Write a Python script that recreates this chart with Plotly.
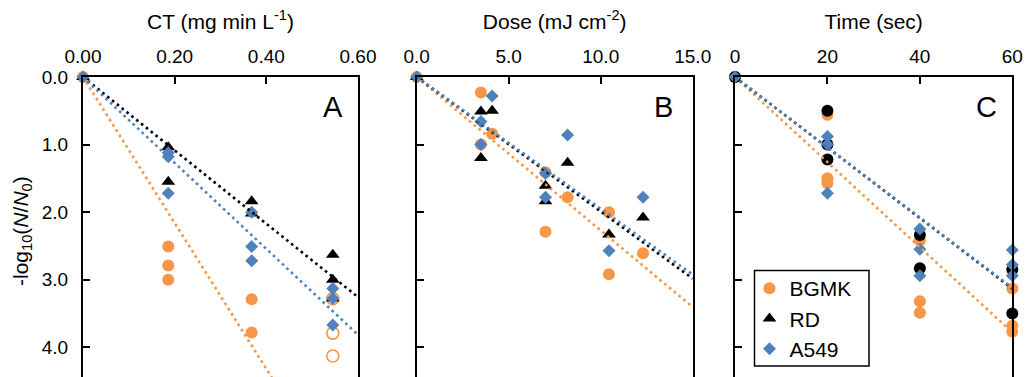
import plotly.graph_objects as go

ORANGE = "#F79646"
BLACK = "#000000"
BLUE = "#4F81BD"
FONT = "Arial, Liberation Sans, sans-serif"

# ---------------- Panel A : CT (mg min L-1) ----------------
a_bgmk_x = [0, 0.186, 0.186, 0.186, 0.368, 0.368]
a_bgmk_y = [0, 2.51, 2.79, 3.00, 3.29, 3.78]
a_bgmk_open_x = [0.545, 0.545, 0.545]
a_bgmk_open_y = [3.28, 3.79, 4.13]
a_rd_x = [0, 0.186, 0.186, 0.368, 0.368, 0.545, 0.545, 0.545]
a_rd_y = [0, 1.04, 1.55, 1.84, 2.02, 2.63, 3.00, 3.28]
a_a549_x = [0, 0.186, 0.186, 0.186, 0.368, 0.368, 0.368, 0.545, 0.545, 0.545]
a_a549_y = [0, 1.12, 1.18, 1.72, 2.00, 2.51, 2.72, 3.13, 3.28, 3.67]
a_slopes = [10.8, 5.43, 6.36]          # trendlines through origin: BGMK, RD, A549

# ---------------- Panel B : Dose (mJ cm-2) ----------------
b_bgmk_x = [0, 3.49, 3.49, 4.1, 7.0, 7.0, 8.2, 10.45, 10.45, 12.3]
b_bgmk_y = [0, 0.23, 1.00, 0.84, 1.41, 2.29, 1.78, 2.00, 2.92, 2.61]
b_rd_x = [0, 3.49, 4.1, 3.49, 7.0, 7.0, 8.2, 10.45, 12.3]
b_rd_y = [0, 0.51, 0.50, 1.20, 1.61, 1.84, 1.27, 2.33, 2.08]
b_a549_x = [0, 4.1, 3.49, 3.49, 7.0, 7.0, 8.2, 10.45, 12.3]
b_a549_y = [0, 0.28, 0.66, 1.00, 1.43, 1.78, 0.86, 2.57, 1.78]
b_slopes = [0.227, 0.199, 0.195]

# ---------------- Panel C : Time (sec) ----------------
c_bgmk_x = [0, 20, 20, 20, 40, 40, 40, 60, 60, 60]
c_bgmk_y = [0, 0.56, 1.50, 1.57, 2.42, 3.32, 3.49, 3.13, 3.68, 3.77]
c_rd_x = [0, 20, 20, 20, 40, 40, 60, 60]
c_rd_y = [0, 0.50, 1.00, 1.22, 2.34, 2.83, 2.85, 3.50]
c_a549_x = [0, 20, 20, 20, 40, 40, 40, 60, 60, 60]
c_a549_y = [0, 0.88, 1.00, 1.72, 2.25, 2.55, 2.94, 2.56, 2.78, 2.94]
c_slopes = [0.063, 0.0522, 0.052]

series_names = ["BGMK", "RD", "A549"]
series_colors = [ORANGE, BLACK, BLUE]

x_ranges = [[0, 0.6], [0, 15], [0, 60]]
y_range = [4.44, 0]

fig = go.Figure()


def add_markers(x, y, xa, ya, name, color, symbol, size, showlegend, open_=False):
    marker = dict(color=color, symbol=symbol, size=size, line=dict(width=0))
    if open_:
        marker = dict(color=color, symbol="circle-open", size=size, line=dict(width=1.6, color=color))
    fig.add_trace(go.Scatter(x=x, y=y, xaxis=xa, yaxis=ya, mode="markers", name=name,
                             legendgroup=name, showlegend=showlegend, marker=marker,
                             cliponaxis=False, hoverinfo="x+y"))


def add_trend(slope, xr, xa, ya, color):
    xs = [xr[0], xr[1]]
    ys = [slope * v for v in xs]
    fig.add_trace(go.Scatter(x=xs, y=ys, xaxis=xa, yaxis=ya, mode="lines", showlegend=False,
                             line=dict(color=color, width=2.6, dash="2.6px,3.6px"),
                             hoverinfo="skip"))


# Panel A markers
add_markers(a_bgmk_open_x, a_bgmk_open_y, "x", "y", "BGMK", ORANGE, "circle", 12, False, open_=True)
add_markers(a_bgmk_x, a_bgmk_y, "x", "y", "BGMK", ORANGE, "circle", 12, True)
add_markers(a_rd_x, a_rd_y, "x", "y", "RD", BLACK, "triangle-up", 12, True)
add_markers(a_a549_x, a_a549_y, "x", "y", "A549", BLUE, "diamond", 10, True)
# Panel B markers
add_markers(b_bgmk_x, b_bgmk_y, "x2", "y2", "BGMK", ORANGE, "circle", 12, False)
add_markers(b_rd_x, b_rd_y, "x2", "y2", "RD", BLACK, "triangle-up", 12, False)
add_markers(b_a549_x, b_a549_y, "x2", "y2", "A549", BLUE, "diamond", 10, False)
# Panel C markers (RD drawn as circles)
add_markers(c_bgmk_x, c_bgmk_y, "x3", "y3", "BGMK", ORANGE, "circle", 12, False)
add_markers(c_rd_x, c_rd_y, "x3", "y3", "RD", BLACK, "circle", 12, False)
add_markers(c_a549_x, c_a549_y, "x3", "y3", "A549", BLUE, "diamond", 10, False)

# Trendlines
for slopes, xr, xa, ya in [(a_slopes, x_ranges[0], "x", "y"),
                           (b_slopes, x_ranges[1], "x2", "y2"),
                           (c_slopes, x_ranges[2], "x3", "y3")]:
    for s, col in zip(slopes, series_colors):
        add_trend(s, xr, xa, ya, col)

W, H = 1025, 377
ytop = 1 - 77 / H
domains = [[83 / W, 358 / W], [416.7 / W, 692.7 / W], [735 / W, 1012.3 / W]]
x_titles = ["CT (mg min L<sup>-1</sup>)", "Dose (mJ cm<sup>-2</sup>)", "Time (sec)"]
x_ticks = [[0, 0.2, 0.4, 0.6], [0, 5, 10, 15], [0, 20, 40, 60]]
x_fmt = [".2f", ".1f", "d"]

common_axis = dict(showline=True, linecolor="black", linewidth=2, ticks="inside", ticklen=7,
                   tickwidth=1.5, tickcolor="black", showgrid=False, zeroline=False,
                   automargin=False,
                   tickfont=dict(size=19, color="black", family=FONT))

layout = dict(
    width=W, height=H, margin=dict(l=0, r=0, t=0, b=0),
    paper_bgcolor="white", plot_bgcolor="white",
    font=dict(family=FONT, color="black"),
    showlegend=True,
    legend=dict(x=749.5 / W, y=1 - 268 / H, xanchor="left", yanchor="top",
                borderwidth=0, bgcolor="rgba(0,0,0,0)",
                font=dict(size=21, family=FONT, color="black"), itemwidth=30,
                tracegroupgap=0),
    shapes=[dict(type="rect", xref="paper", yref="paper",
                 x0=754.5 / W, x1=869 / W, y0=1 - 366 / H, y1=1 - 270.5 / H,
                 line=dict(color="black", width=1.5), fillcolor="white", layer="above")],
)

for i in range(3):
    sx = "" if i == 0 else str(i + 1)
    layout["xaxis" + sx] = dict(common_axis, domain=domains[i], range=x_ranges[i], side="top",
                                anchor="y" + sx, tickvals=x_ticks[i], tickformat=x_fmt[i],
                                ticklabelstandoff=4,
                                title=dict(text=x_titles[i], font=dict(size=21, family=FONT), standoff=11))
    layout["yaxis" + sx] = dict(common_axis, domain=[0, ytop], range=y_range, anchor="x" + sx,
                                tickvals=[0, 1, 2, 3, 4], tickformat=".1f", mirror=True,
                                ticklabelstandoff=9, showticklabels=(i == 0))

annotations = [
    dict(text="-log<sub>10</sub>(<i>N</i>/<i>N</i><sub>0</sub>)", x=22 / W, y=1 - 231 / H,
         xref="paper", yref="paper", textangle=-90, showarrow=False,
         font=dict(size=21, family=FONT), xanchor="center", yanchor="middle"),
]
for letter, px in zip(["A", "B", "C"], [332.7, 663.3, 986.7]):
    annotations.append(dict(text=letter, x=px / W, y=1 - 106.7 / H, xref="paper", yref="paper",
                            showarrow=False, font=dict(size=29, family=FONT),
                            xanchor="center", yanchor="middle"))
layout["annotations"] = annotations

fig.update_layout(**layout)
fig.write_html("out.html", config={"displayModeBar": False},
               post_script="document.body.style.margin='0px';")
